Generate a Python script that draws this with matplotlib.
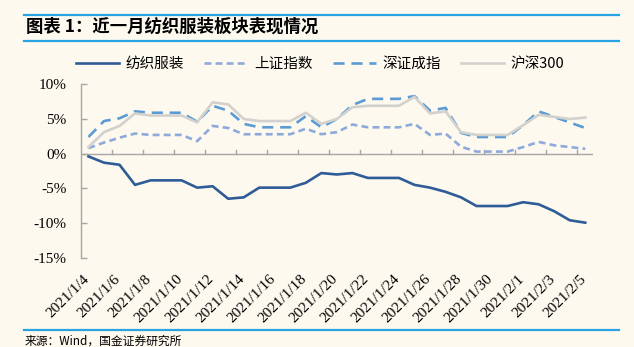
import matplotlib
matplotlib.use("Agg")
import matplotlib.pyplot as plt
import matplotlib.transforms as mtransforms
from matplotlib.lines import Line2D

# 2021/1/4 - 2021/2/5, calendar days (weekends carry the previous value)
dates = ['2021/1/%d' % d for d in range(4, 32)] + ['2021/2/%d' % d for d in range(1, 6)]

textile = [-0.4, -1.3, -1.6, -4.5, -3.85, -3.85, -3.85, -4.9, -4.7, -6.5, -6.3,
           -4.9, -4.9, -4.9, -4.2, -2.8, -3.0, -2.8, -3.5, -3.5, -3.5, -4.5,
           -4.9, -5.5, -6.3, -7.55, -7.55, -7.55, -7.0, -7.3, -8.3, -9.6, -9.95]
sse = [0.8, 1.6, 2.3, 2.9, 2.7, 2.7, 2.7, 1.8, 4.0, 3.7, 2.8,
       2.8, 2.8, 2.8, 3.6, 2.8, 3.1, 4.2, 3.8, 3.8, 3.8, 4.3,
       2.7, 2.9, 1.0, 0.3, 0.3, 0.3, 0.95, 1.7, 1.2, 0.95, 0.7]
szse = [2.4, 4.7, 5.1, 6.1, 5.9, 5.9, 5.9, 4.6, 6.9, 6.2, 4.3,
        3.8, 3.8, 3.8, 5.4, 3.8, 5.0, 7.0, 7.9, 7.9, 7.9, 8.3,
        6.2, 6.6, 3.0, 2.4, 2.4, 2.4, 4.1, 6.1, 5.3, 4.5, 3.7]
hs300 = [0.95, 3.1, 4.0, 5.8, 5.5, 5.5, 5.5, 4.5, 7.4, 7.1, 5.0,
         4.7, 4.7, 4.7, 5.9, 4.3, 5.0, 6.7, 6.9, 6.9, 6.9, 8.2,
         5.8, 6.1, 3.1, 2.7, 2.7, 2.7, 4.1, 5.6, 5.3, 5.0, 5.2]

names = ['纺织服装', '上证指数', '深证成指', '沪深300']
yticks = [-15, -10, -5, 0, 5, 10]

BG = '#FDF9EF'
AXC = '#A6A6A6'
RULE = '#29A3E2'
CJK = ['Noto Sans CJK SC', 'DejaVu Sans']
SERIF = 'Liberation Serif'

fig = plt.figure(figsize=(6.34, 3.47), dpi=100, facecolor=BG)
ax = fig.add_axes([80.7 / 634, 1 - 257.7 / 347, (593 - 80.7) / 634, (257.7 - 84.3) / 347])
ax.set_facecolor(BG)

x = list(range(len(dates)))
ax.plot(x, textile, color='#2F5B97', lw=1.9, label=names[0], zorder=3)
ax.plot(x, sse, color='#8EA9DB', lw=1.9, dashes=(2.6, 1.6), label=names[1], zorder=4)
ax.plot(x, szse, color='#5B9BD5', lw=1.9, dashes=(4.2, 2.6), label=names[2], zorder=5)
ax.plot(x, hs300, color='#D3D1CE', lw=1.9, label=names[3], zorder=6)

ax.set_xlim(-0.5, len(dates) - 0.5)
ax.set_ylim(-15, 10)

for s in ['top', 'right', 'bottom']:
    ax.spines[s].set_visible(False)
ax.spines['left'].set_color(AXC)
ax.spines['left'].set_linewidth(1.0)

# x axis line at 0 with inside ticks between every second category
ax.axhline(0, color=AXC, lw=1.0, zorder=2)
ax.set_xticks([])
for b in range(1, len(dates) - 1, 2):
    ax.plot([b + 0.5, b + 0.5], [0, 0.55], color=AXC, lw=1.0, zorder=2)

ax.set_yticks(yticks)
ax.set_yticklabels(['%d%%' % v for v in yticks], fontfamily=SERIF, fontsize=11)
ax.tick_params(axis='y', direction='in', length=4, width=1.0, color=AXC, pad=10)

# date labels along the bottom, rotated
base = mtransforms.blended_transform_factory(ax.transData, ax.transAxes)
trans = mtransforms.offset_copy(base, fig=fig, x=2.5, y=-10.5, units='points')
for i in range(0, len(dates), 2):
    ax.text(i, 0, dates[i], transform=trans, rotation=45, ha='right', va='top',
            fontfamily=SERIF, fontsize=11)

fig.legend(loc='center', bbox_to_anchor=(0.505, 1 - 64 / 347), ncol=4, frameon=False,
           prop={'family': CJK, 'size': 10.5}, handlelength=2.95, handletextpad=0.45,
           columnspacing=1.4)

# header / footer
fig.text(26 / 634, 1 - 27 / 347, '图表 1：近一月纺织服装板块表现情况', fontfamily=CJK,
         fontweight='bold', fontsize=12.5, va='center', ha='left')
for yy in [15, 40.7, 330]:
    fig.add_artist(Line2D([24 / 634, 619 / 634], [1 - yy / 347, 1 - yy / 347],
                          color=RULE, lw=1.6, transform=fig.transFigure))
fig.text(25 / 634, 1 - 341 / 347, '来源：Wind，国金证券研究所', fontfamily=CJK,
         fontsize=8.5, va='center', ha='left')

fig.savefig('out.png', dpi=100, facecolor=BG)
